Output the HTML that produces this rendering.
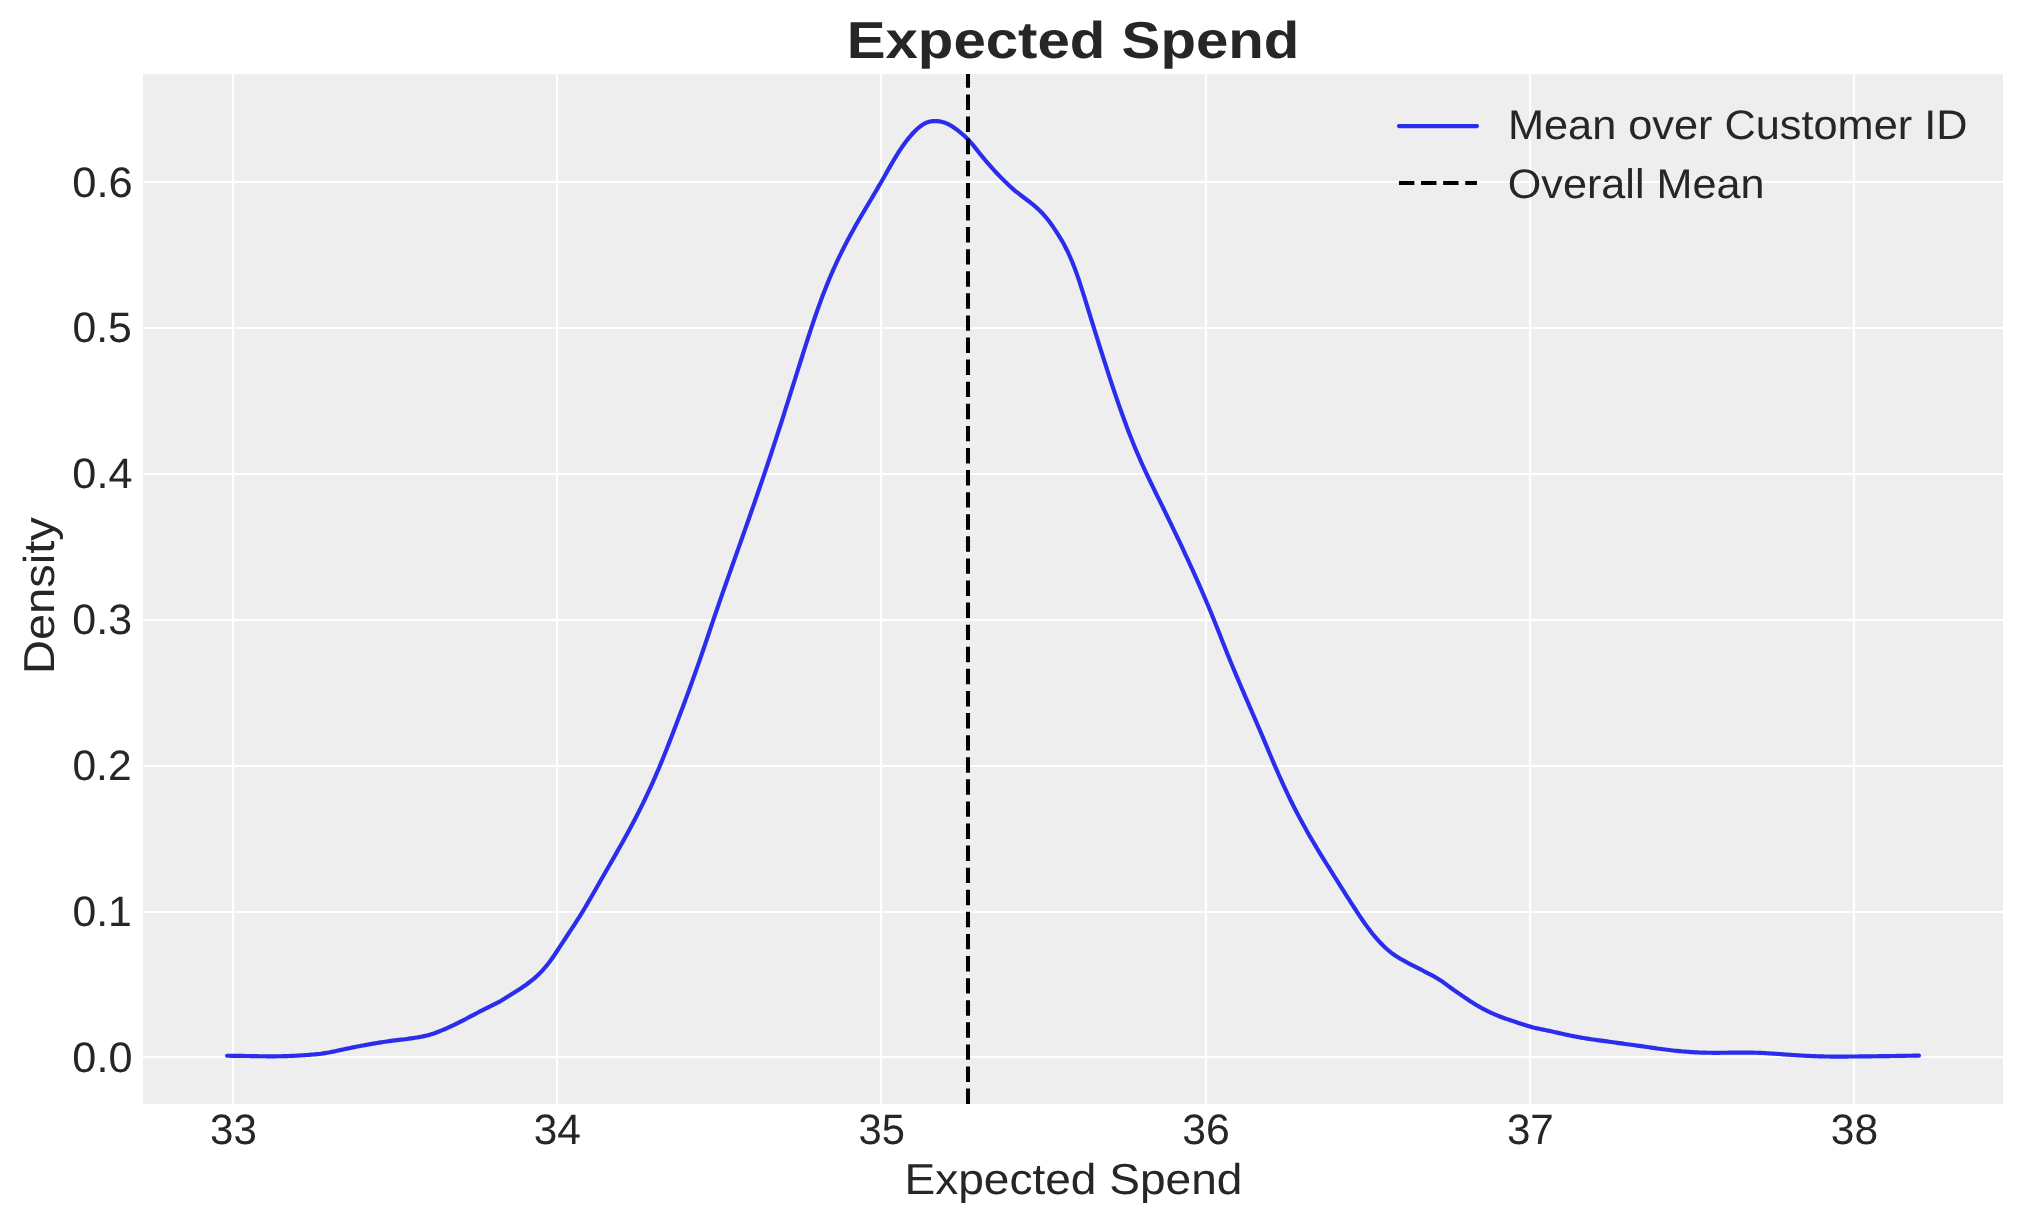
<!DOCTYPE html>
<html lang="en"><head><meta charset="utf-8"><title>Expected Spend</title>
<style>
html,body{margin:0;padding:0;background:#fff;}
body{width:2023px;height:1223px;overflow:hidden;font-family:"Liberation Sans",sans-serif;}
svg{display:block;will-change:transform;}
text{font-family:"Liberation Sans",sans-serif;fill:#262626;text-rendering:geometricPrecision;}
</style></head><body>
<svg width="2023" height="1223" viewBox="0 0 2023 1223">
<rect x="0" y="0" width="2023" height="1223" fill="#ffffff"/>
<rect x="143" y="74" width="1860" height="1030" fill="#eeeeee"/>
<g stroke="#ffffff" stroke-width="2.15" fill="none">
<line x1="233" y1="74" x2="233" y2="1104"/>
<line x1="557" y1="74" x2="557" y2="1104"/>
<line x1="881" y1="74" x2="881" y2="1104"/>
<line x1="1206" y1="74" x2="1206" y2="1104"/>
<line x1="1530" y1="74" x2="1530" y2="1104"/>
<line x1="1854" y1="74" x2="1854" y2="1104"/>
<line x1="143" y1="1057" x2="2003" y2="1057"/>
<line x1="143" y1="912" x2="2003" y2="912"/>
<line x1="143" y1="766" x2="2003" y2="766"/>
<line x1="143" y1="620" x2="2003" y2="620"/>
<line x1="143" y1="474" x2="2003" y2="474"/>
<line x1="143" y1="328" x2="2003" y2="328"/>
<line x1="143" y1="182" x2="2003" y2="182"/>
</g>
<path d="M227.10 1055.76L229.10 1055.78L231.10 1055.79L233.10 1055.81L235.10 1055.83L237.10 1055.86L239.10 1055.88L241.10 1055.91L243.10 1055.94L245.10 1055.97L247.10 1056.01L249.10 1056.04L251.10 1056.08L253.10 1056.11L255.10 1056.15L257.10 1056.18L259.10 1056.21L261.10 1056.24L263.10 1056.26L265.10 1056.28L267.10 1056.29L269.10 1056.30L271.10 1056.30L273.10 1056.30L275.10 1056.29L277.10 1056.27L279.10 1056.25L281.10 1056.22L283.10 1056.18L285.10 1056.13L287.10 1056.07L289.10 1056.01L291.10 1055.93L293.10 1055.84L295.10 1055.74L297.10 1055.63L299.10 1055.51L301.10 1055.39L303.10 1055.26L305.10 1055.12L307.10 1054.98L309.10 1054.84L311.10 1054.69L313.10 1054.53L315.10 1054.36L317.10 1054.16L319.10 1053.95L321.10 1053.71L323.10 1053.44L325.10 1053.14L327.10 1052.80L329.10 1052.43L331.10 1052.03L333.10 1051.62L335.10 1051.20L337.10 1050.76L339.10 1050.33L341.10 1049.89L343.10 1049.46L345.10 1049.02L347.10 1048.60L349.10 1048.18L351.10 1047.76L353.10 1047.36L355.10 1046.96L357.10 1046.57L359.10 1046.19L361.10 1045.81L363.10 1045.44L365.10 1045.08L367.10 1044.72L369.10 1044.36L371.10 1044.02L373.10 1043.67L375.10 1043.33L377.10 1043.00L379.10 1042.68L381.10 1042.36L383.10 1042.05L385.10 1041.74L387.10 1041.45L389.10 1041.17L391.10 1040.89L393.10 1040.63L395.10 1040.38L397.10 1040.14L399.10 1039.91L401.10 1039.68L403.10 1039.45L405.10 1039.21L407.10 1038.96L409.10 1038.69L411.10 1038.41L413.10 1038.12L415.10 1037.80L417.10 1037.47L419.10 1037.12L421.10 1036.74L423.10 1036.34L425.10 1035.90L427.10 1035.42L429.10 1034.89L431.10 1034.30L433.10 1033.66L435.10 1032.97L437.10 1032.23L439.10 1031.46L441.10 1030.65L443.10 1029.81L445.10 1028.96L447.10 1028.08L449.10 1027.18L451.10 1026.26L453.10 1025.32L455.10 1024.36L457.10 1023.39L459.10 1022.39L461.10 1021.38L463.10 1020.36L465.10 1019.32L467.10 1018.27L469.10 1017.22L471.10 1016.16L473.10 1015.10L475.10 1014.05L477.10 1012.99L479.10 1011.95L481.10 1010.91L483.10 1009.89L485.10 1008.87L487.10 1007.87L489.10 1006.88L491.10 1005.90L493.10 1004.92L495.10 1003.93L497.10 1002.90L499.10 1001.83L501.10 1000.70L503.10 999.50L505.10 998.26L507.10 997.00L509.10 995.73L511.10 994.46L513.10 993.21L515.10 991.96L517.10 990.70L519.10 989.42L521.10 988.13L523.10 986.80L525.10 985.43L527.10 984.01L529.10 982.52L531.10 980.97L533.10 979.34L535.10 977.62L537.10 975.81L539.10 973.90L541.10 971.87L543.10 969.73L545.10 967.45L547.10 965.05L549.10 962.50L551.10 959.80L553.10 956.97L555.10 954.02L557.10 950.99L559.10 947.92L561.10 944.85L563.10 941.80L565.10 938.77L567.10 935.75L569.10 932.72L571.10 929.68L573.10 926.63L575.10 923.55L577.10 920.43L579.10 917.27L581.10 914.06L583.10 910.80L585.10 907.47L587.10 904.09L589.10 900.66L591.10 897.21L593.10 893.72L595.10 890.22L597.10 886.72L599.10 883.21L601.10 879.72L603.10 876.24L605.10 872.76L607.10 869.29L609.10 865.82L611.10 862.35L613.10 858.87L615.10 855.38L617.10 851.87L619.10 848.34L621.10 844.79L623.10 841.21L625.10 837.60L627.10 833.95L629.10 830.27L631.10 826.54L633.10 822.77L635.10 818.94L637.10 815.07L639.10 811.13L641.10 807.13L643.10 803.06L645.10 798.93L647.10 794.72L649.10 790.43L651.10 786.06L653.10 781.61L655.10 777.08L657.10 772.45L659.10 767.73L661.10 762.91L663.10 758.01L665.10 753.02L667.10 747.98L669.10 742.87L671.10 737.73L673.10 732.55L675.10 727.34L677.10 722.11L679.10 716.84L681.10 711.54L683.10 706.20L685.10 700.82L687.10 695.40L689.10 689.93L691.10 684.42L693.10 678.86L695.10 673.26L697.10 667.59L699.10 661.88L701.10 656.11L703.10 650.28L705.10 644.39L707.10 638.46L709.10 632.51L711.10 626.57L713.10 620.65L715.10 614.78L717.10 608.95L719.10 603.16L721.10 597.41L723.10 591.68L725.10 585.97L727.10 580.28L729.10 574.60L731.10 568.94L733.10 563.28L735.10 557.63L737.10 551.99L739.10 546.34L741.10 540.69L743.10 535.03L745.10 529.37L747.10 523.69L749.10 518.00L751.10 512.30L753.10 506.57L755.10 500.82L757.10 495.05L759.10 489.24L761.10 483.41L763.10 477.55L765.10 471.66L767.10 465.73L769.10 459.76L771.10 453.76L773.10 447.70L775.10 441.60L777.10 435.45L779.10 429.26L781.10 423.03L783.10 416.77L785.10 410.48L787.10 404.17L789.10 397.84L791.10 391.49L793.10 385.14L795.10 378.79L797.10 372.43L799.10 366.09L801.10 359.75L803.10 353.44L805.10 347.15L807.10 340.92L809.10 334.74L811.10 328.64L813.10 322.64L815.10 316.75L817.10 310.98L819.10 305.35L821.10 299.87L823.10 294.54L825.10 289.38L827.10 284.37L829.10 279.51L831.10 274.79L833.10 270.20L835.10 265.74L837.10 261.40L839.10 257.17L841.10 253.05L843.10 249.02L845.10 245.09L847.10 241.25L849.10 237.48L851.10 233.78L853.10 230.15L855.10 226.57L857.10 223.05L859.10 219.57L861.10 216.13L863.10 212.72L865.10 209.33L867.10 205.95L869.10 202.59L871.10 199.23L873.10 195.86L875.10 192.48L877.10 189.08L879.10 185.65L881.10 182.20L883.10 178.70L885.10 175.18L887.10 171.65L889.10 168.14L891.10 164.66L893.10 161.22L895.10 157.86L897.10 154.59L899.10 151.42L901.10 148.38L903.10 145.48L905.10 142.71L907.10 140.08L909.10 137.59L911.10 135.23L913.10 133.02L915.10 130.95L917.10 129.03L919.10 127.28L921.10 125.73L923.10 124.39L925.10 123.28L927.10 122.42L929.10 121.79L931.10 121.37L933.10 121.12L935.10 121.04L937.10 121.11L939.10 121.31L941.10 121.67L943.10 122.17L945.10 122.82L947.10 123.64L949.10 124.62L951.10 125.76L953.10 127.04L955.10 128.44L957.10 129.93L959.10 131.47L961.10 133.07L963.10 134.74L965.10 136.51L967.10 138.43L969.10 140.52L971.10 142.78L973.10 145.17L975.10 147.64L977.10 150.16L979.10 152.69L981.10 155.18L983.10 157.62L985.10 160.02L987.10 162.37L989.10 164.67L991.10 166.93L993.10 169.15L995.10 171.33L997.10 173.47L999.10 175.57L1001.10 177.63L1003.10 179.65L1005.10 181.64L1007.10 183.58L1009.10 185.48L1011.10 187.32L1013.10 189.09L1015.10 190.79L1017.10 192.41L1019.10 193.96L1021.10 195.48L1023.10 196.97L1025.10 198.46L1027.10 199.97L1029.10 201.51L1031.10 203.08L1033.10 204.71L1035.10 206.39L1037.10 208.14L1039.10 209.99L1041.10 211.95L1043.10 214.05L1045.10 216.30L1047.10 218.71L1049.10 221.29L1051.10 224.02L1053.10 226.89L1055.10 229.88L1057.10 232.95L1059.10 236.08L1061.10 239.34L1063.10 242.80L1065.10 246.51L1067.10 250.48L1069.10 254.73L1071.10 259.28L1073.10 264.14L1075.10 269.34L1077.10 274.86L1079.10 280.69L1081.10 286.80L1083.10 293.09L1085.10 299.48L1087.10 305.91L1089.10 312.37L1091.10 318.83L1093.10 325.30L1095.10 331.75L1097.10 338.17L1099.10 344.56L1101.10 350.91L1103.10 357.22L1105.10 363.49L1107.10 369.70L1109.10 375.86L1111.10 381.95L1113.10 387.97L1115.10 393.92L1117.10 399.78L1119.10 405.56L1121.10 411.24L1123.10 416.82L1125.10 422.30L1127.10 427.67L1129.10 432.92L1131.10 438.05L1133.10 443.05L1135.10 447.92L1137.10 452.66L1139.10 457.28L1141.10 461.81L1143.10 466.24L1145.10 470.59L1147.10 474.86L1149.10 479.08L1151.10 483.25L1153.10 487.38L1155.10 491.48L1157.10 495.56L1159.10 499.63L1161.10 503.70L1163.10 507.78L1165.10 511.87L1167.10 515.97L1169.10 520.09L1171.10 524.22L1173.10 528.38L1175.10 532.55L1177.10 536.74L1179.10 540.96L1181.10 545.20L1183.10 549.47L1185.10 553.76L1187.10 558.08L1189.10 562.43L1191.10 566.81L1193.10 571.23L1195.10 575.68L1197.10 580.16L1199.10 584.69L1201.10 589.25L1203.10 593.85L1205.10 598.50L1207.10 603.20L1209.10 607.96L1211.10 612.78L1213.10 617.68L1215.10 622.66L1217.10 627.71L1219.10 632.80L1221.10 637.91L1223.10 643.02L1225.10 648.09L1227.10 653.11L1229.10 658.06L1231.10 662.95L1233.10 667.79L1235.10 672.59L1237.10 677.34L1239.10 682.06L1241.10 686.75L1243.10 691.41L1245.10 696.06L1247.10 700.69L1249.10 705.31L1251.10 709.93L1253.10 714.56L1255.10 719.19L1257.10 723.83L1259.10 728.50L1261.10 733.19L1263.10 737.91L1265.10 742.66L1267.10 747.43L1269.10 752.19L1271.10 756.94L1273.10 761.65L1275.10 766.32L1277.10 770.94L1279.10 775.49L1281.10 779.97L1283.10 784.38L1285.10 788.72L1287.10 792.98L1289.10 797.15L1291.10 801.24L1293.10 805.26L1295.10 809.20L1297.10 813.06L1299.10 816.85L1301.10 820.58L1303.10 824.25L1305.10 827.86L1307.10 831.42L1309.10 834.92L1311.10 838.38L1313.10 841.79L1315.10 845.16L1317.10 848.50L1319.10 851.80L1321.10 855.08L1323.10 858.33L1325.10 861.56L1327.10 864.77L1329.10 867.96L1331.10 871.15L1333.10 874.32L1335.10 877.50L1337.10 880.67L1339.10 883.85L1341.10 887.03L1343.10 890.20L1345.10 893.38L1347.10 896.54L1349.10 899.69L1351.10 902.82L1353.10 905.93L1355.10 909.01L1357.10 912.06L1359.10 915.08L1361.10 918.05L1363.10 920.96L1365.10 923.82L1367.10 926.60L1369.10 929.31L1371.10 931.92L1373.10 934.44L1375.10 936.85L1377.10 939.17L1379.10 941.38L1381.10 943.50L1383.10 945.51L1385.10 947.43L1387.10 949.25L1389.10 950.96L1391.10 952.56L1393.10 954.05L1395.10 955.44L1397.10 956.74L1399.10 957.98L1401.10 959.17L1403.10 960.31L1405.10 961.43L1407.10 962.53L1409.10 963.60L1411.10 964.65L1413.10 965.68L1415.10 966.70L1417.10 967.71L1419.10 968.72L1421.10 969.73L1423.10 970.75L1425.10 971.77L1427.10 972.79L1429.10 973.83L1431.10 974.88L1433.10 975.95L1435.10 977.05L1437.10 978.20L1439.10 979.42L1441.10 980.72L1443.10 982.12L1445.10 983.58L1447.10 985.07L1449.10 986.56L1451.10 988.03L1453.10 989.47L1455.10 990.88L1457.10 992.27L1459.10 993.64L1461.10 995.02L1463.10 996.39L1465.10 997.75L1467.10 999.09L1469.10 1000.42L1471.10 1001.72L1473.10 1003.00L1475.10 1004.24L1477.10 1005.45L1479.10 1006.62L1481.10 1007.74L1483.10 1008.83L1485.10 1009.87L1487.10 1010.88L1489.10 1011.86L1491.10 1012.80L1493.10 1013.71L1495.10 1014.58L1497.10 1015.42L1499.10 1016.22L1501.10 1016.99L1503.10 1017.72L1505.10 1018.43L1507.10 1019.12L1509.10 1019.80L1511.10 1020.47L1513.10 1021.14L1515.10 1021.81L1517.10 1022.48L1519.10 1023.15L1521.10 1023.81L1523.10 1024.47L1525.10 1025.11L1527.10 1025.73L1529.10 1026.32L1531.10 1026.88L1533.10 1027.40L1535.10 1027.90L1537.10 1028.36L1539.10 1028.81L1541.10 1029.24L1543.10 1029.66L1545.10 1030.08L1547.10 1030.49L1549.10 1030.91L1551.10 1031.33L1553.10 1031.77L1555.10 1032.20L1557.10 1032.65L1559.10 1033.09L1561.10 1033.54L1563.10 1033.98L1565.10 1034.42L1567.10 1034.85L1569.10 1035.28L1571.10 1035.69L1573.10 1036.10L1575.10 1036.49L1577.10 1036.88L1579.10 1037.25L1581.10 1037.61L1583.10 1037.96L1585.10 1038.30L1587.10 1038.62L1589.10 1038.93L1591.10 1039.23L1593.10 1039.52L1595.10 1039.80L1597.10 1040.08L1599.10 1040.34L1601.10 1040.61L1603.10 1040.88L1605.10 1041.14L1607.10 1041.41L1609.10 1041.69L1611.10 1041.97L1613.10 1042.26L1615.10 1042.55L1617.10 1042.83L1619.10 1043.11L1621.10 1043.39L1623.10 1043.66L1625.10 1043.94L1627.10 1044.21L1629.10 1044.48L1631.10 1044.75L1633.10 1045.03L1635.10 1045.30L1637.10 1045.58L1639.10 1045.86L1641.10 1046.14L1643.10 1046.43L1645.10 1046.72L1647.10 1047.01L1649.10 1047.30L1651.10 1047.59L1653.10 1047.88L1655.10 1048.16L1657.10 1048.45L1659.10 1048.73L1661.10 1049.00L1663.10 1049.27L1665.10 1049.53L1667.10 1049.78L1669.10 1050.03L1671.10 1050.26L1673.10 1050.49L1675.10 1050.71L1677.10 1050.91L1679.10 1051.11L1681.10 1051.29L1683.10 1051.46L1685.10 1051.62L1687.10 1051.77L1689.10 1051.92L1691.10 1052.06L1693.10 1052.19L1695.10 1052.31L1697.10 1052.42L1699.10 1052.51L1701.10 1052.59L1703.10 1052.65L1705.10 1052.70L1707.10 1052.74L1709.10 1052.77L1711.10 1052.79L1713.10 1052.80L1715.10 1052.80L1717.10 1052.80L1719.10 1052.79L1721.10 1052.78L1723.10 1052.76L1725.10 1052.74L1727.10 1052.72L1729.10 1052.69L1731.10 1052.67L1733.10 1052.65L1735.10 1052.63L1737.10 1052.61L1739.10 1052.59L1741.10 1052.58L1743.10 1052.58L1745.10 1052.58L1747.10 1052.59L1749.10 1052.61L1751.10 1052.63L1753.10 1052.67L1755.10 1052.71L1757.10 1052.77L1759.10 1052.84L1761.10 1052.92L1763.10 1053.02L1765.10 1053.12L1767.10 1053.23L1769.10 1053.35L1771.10 1053.48L1773.10 1053.61L1775.10 1053.75L1777.10 1053.89L1779.10 1054.03L1781.10 1054.17L1783.10 1054.31L1785.10 1054.46L1787.10 1054.60L1789.10 1054.74L1791.10 1054.87L1793.10 1055.01L1795.10 1055.14L1797.10 1055.27L1799.10 1055.39L1801.10 1055.51L1803.10 1055.63L1805.10 1055.74L1807.10 1055.84L1809.10 1055.94L1811.10 1056.03L1813.10 1056.12L1815.10 1056.20L1817.10 1056.27L1819.10 1056.33L1821.10 1056.39L1823.10 1056.44L1825.10 1056.48L1827.10 1056.52L1829.10 1056.54L1831.10 1056.56L1833.10 1056.58L1835.10 1056.59L1837.10 1056.59L1839.10 1056.59L1841.10 1056.59L1843.10 1056.58L1845.10 1056.57L1847.10 1056.56L1849.10 1056.54L1851.10 1056.52L1853.10 1056.50L1855.10 1056.48L1857.10 1056.46L1859.10 1056.44L1861.10 1056.42L1863.10 1056.40L1865.10 1056.37L1867.10 1056.35L1869.10 1056.32L1871.10 1056.30L1873.10 1056.27L1875.10 1056.25L1877.10 1056.22L1879.10 1056.19L1881.10 1056.16L1883.10 1056.14L1885.10 1056.11L1887.10 1056.08L1889.10 1056.05L1891.10 1056.02L1893.10 1055.99L1895.10 1055.96L1897.10 1055.93L1899.10 1055.90L1901.10 1055.87L1903.10 1055.84L1905.10 1055.81L1907.10 1055.78L1909.10 1055.75L1911.10 1055.72L1913.10 1055.69L1915.10 1055.66L1917.10 1055.63L1918.90 1055.60" fill="none" stroke="#2a2eec" stroke-width="4.17" stroke-linecap="round" stroke-linejoin="round"/>
<line x1="968" y1="1104" x2="968" y2="74" stroke="#000000" stroke-width="4.05" stroke-dasharray="15.42 6.67"/>
<line x1="1398.95" y1="126.05" x2="1476.95" y2="126.05" stroke="#2a2eec" stroke-width="4.17" stroke-linecap="round"/>
<line x1="1398.95" y1="183" x2="1476.95" y2="183" stroke="#000000" stroke-width="4.05" stroke-dasharray="15.42 6.67"/>
<text id="title" transform="translate(846.67 57.90) scale(1.1214 1)" font-size="51.90" font-weight="bold">Expected Spend</text>
<text id="xlabel" transform="translate(904.49 1193.90) scale(1.0633 1)" font-size="43.30">Expected Spend</text>
<text id="ylabel" transform="translate(54.20 674.10) rotate(-90) scale(1.0876 1)" font-size="43.30">Density</text>
<text id="yt0" transform="translate(72.37 1071.63) scale(1.0169 1)" font-size="42.50">0.0</text>
<text id="yt1" transform="translate(72.38 925.80) scale(1.0063 1)" font-size="42.50">0.1</text>
<text id="yt2" transform="translate(72.39 779.97) scale(1.0019 1)" font-size="42.50">0.2</text>
<text id="yt3" transform="translate(72.37 634.14) scale(1.0111 1)" font-size="42.50">0.3</text>
<text id="yt4" transform="translate(72.37 488.31) scale(1.0164 1)" font-size="42.50">0.4</text>
<text id="yt5" transform="translate(72.39 342.48) scale(1.0045 1)" font-size="42.50">0.5</text>
<text id="yt6" transform="translate(72.36 196.65) scale(1.0230 1)" font-size="42.50">0.6</text>
<text id="xt0" transform="translate(209.99 1144.03) scale(0.9914 1)" font-size="42.50">33</text>
<text id="xt1" transform="translate(533.71 1144.03) scale(0.9984 1)" font-size="42.50">34</text>
<text id="xt2" transform="translate(858.55 1144.03) scale(0.9830 1)" font-size="42.50">35</text>
<text id="xt3" transform="translate(1182.23 1144.03) scale(1.0065 1)" font-size="42.50">36</text>
<text id="xt4" transform="translate(1506.89 1144.03) scale(0.9927 1)" font-size="42.50">37</text>
<text id="xt5" transform="translate(1830.75 1144.03) scale(1.0013 1)" font-size="42.50">38</text>
<text id="leg1" transform="translate(1507.92 138.80) scale(1.0484 1)" font-size="41.30">Mean over Customer ID</text>
<text id="leg2" transform="translate(1507.79 197.50) scale(1.0450 1)" font-size="41.30">Overall Mean</text>
</svg>
</body></html>
